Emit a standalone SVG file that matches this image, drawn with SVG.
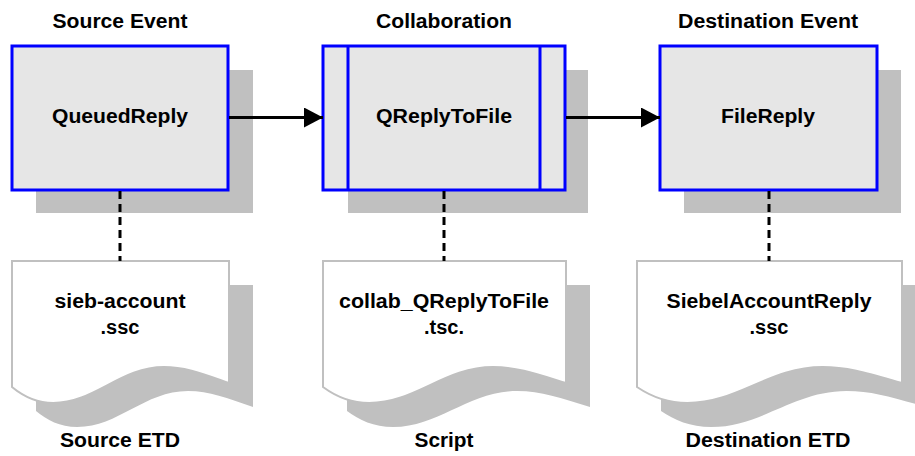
<svg xmlns="http://www.w3.org/2000/svg" width="915" height="456" viewBox="0 0 915 456">
<style>
text{font-family:"Liberation Sans",Arial,sans-serif;font-weight:bold;font-size:20px;fill:#000;text-anchor:middle}
.shadow{fill:#c0c0c0;stroke:none}
.box{fill:#e6e6e6;stroke:#0000ff;stroke-width:3}
.bar{stroke:#0000ff;stroke-width:3;fill:none}
.doc{fill:#fff;stroke:#c0c0c0;stroke-width:2}
.flow{stroke:#000;stroke-width:3;fill:none}
.dash{stroke:#000;stroke-width:3;fill:none;stroke-dasharray:8 5}
</style>
<defs>
<marker id="arr" markerUnits="userSpaceOnUse" markerWidth="20" markerHeight="20" refX="19" refY="10" orient="auto">
<path d="M0,0 L19,10 L0,20 Z" fill="#000"/>
</marker>
</defs>

<g id="source-event">
<text x="120" y="28" textLength="135" lengthAdjust="spacingAndGlyphs">Source Event</text>
<rect class="shadow" x="36" y="70" width="217" height="143"/>
<rect class="box" x="12" y="46" width="216" height="144"/>
<text x="120" y="123" textLength="136" lengthAdjust="spacingAndGlyphs">QueuedReply</text>
</g>

<g id="collaboration">
<text x="444" y="28" textLength="136" lengthAdjust="spacingAndGlyphs">Collaboration</text>
<rect class="shadow" x="348" y="70" width="240" height="143"/>
<rect class="box" x="323" y="46" width="242" height="144"/>
<line class="bar" x1="348" y1="46" x2="348" y2="190"/>
<line class="bar" x1="540" y1="46" x2="540" y2="190"/>
<text x="444" y="123" textLength="136" lengthAdjust="spacingAndGlyphs">QReplyToFile</text>
</g>

<g id="destination-event">
<text x="768" y="28" textLength="180" lengthAdjust="spacingAndGlyphs">Destination Event</text>
<rect class="shadow" x="684" y="70" width="217" height="143"/>
<rect class="box" x="660" y="46" width="217" height="144"/>
<text x="768" y="123" textLength="94" lengthAdjust="spacingAndGlyphs">FileReply</text>
</g>

<g id="source-etd">
<path class="shadow" transform="translate(24,24)" d="M12,261 H229 V383 C203,374 185.6,367 164,367 C120.5,367 94.5,403 53.2,403 C35.9,403 22.9,396 12,387 Z"/>
<path class="doc" d="M12,261 H229 V383 C203,374 185.6,367 164,367 C120.5,367 94.5,403 53.2,403 C35.9,403 22.9,396 12,387 Z"/>
<text x="120" y="308" textLength="131" lengthAdjust="spacingAndGlyphs">sieb-account</text>
<text x="120" y="334">.ssc</text>
<text x="120" y="447" textLength="120" lengthAdjust="spacingAndGlyphs">Source ETD</text>
</g>

<g id="script">
<path class="shadow" transform="translate(24,24)" d="M323,261 H566 V383 C536.8,374 517.4,367 493.1,367 C444.5,367 415.3,403 369.2,403 C349.7,403 335.2,396 323,387 Z"/>
<path class="doc" d="M323,261 H566 V383 C536.8,374 517.4,367 493.1,367 C444.5,367 415.3,403 369.2,403 C349.7,403 335.2,396 323,387 Z"/>
<text x="444" y="308" textLength="210" lengthAdjust="spacingAndGlyphs">collab_QReplyToFile</text>
<text x="444" y="334">.tsc.</text>
<text x="444" y="447" textLength="59" lengthAdjust="spacingAndGlyphs">Script</text>
</g>

<g id="destination-etd">
<path class="shadow" transform="translate(24,24)" d="M637,261 H902 V383 C870.2,374 849,367 822.5,367 C769.5,367 737.7,403 687.4,403 C666.2,403 650.3,396 637,387 Z"/>
<path class="doc" d="M637,261 H902 V383 C870.2,374 849,367 822.5,367 C769.5,367 737.7,403 687.4,403 C666.2,403 650.3,396 637,387 Z"/>
<text x="769" y="308" textLength="205" lengthAdjust="spacingAndGlyphs">SiebelAccountReply</text>
<text x="769" y="334">.ssc</text>
<text x="768" y="447" textLength="165" lengthAdjust="spacingAndGlyphs">Destination ETD</text>
</g>

<g id="connectors">
<line class="flow" x1="229" y1="117.5" x2="323" y2="117.5" marker-end="url(#arr)"/>
<line class="flow" x1="566" y1="117.5" x2="660" y2="117.5" marker-end="url(#arr)"/>
<line class="dash" x1="120" y1="191" x2="120" y2="261"/>
<line class="dash" x1="444" y1="191" x2="444" y2="261"/>
<line class="dash" x1="769" y1="191" x2="769" y2="261"/>
</g>
</svg>
